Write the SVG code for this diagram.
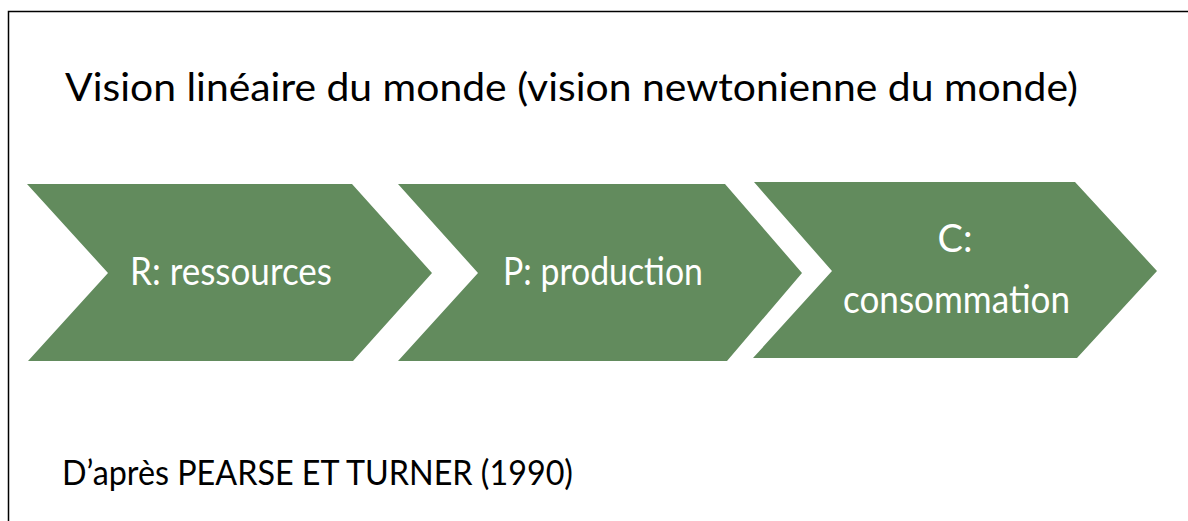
<svg xmlns="http://www.w3.org/2000/svg" width="1188" height="521" viewBox="0 0 1188 521">
<style>
.t{font-family:Lato,"Open Sans","Liberation Sans",sans-serif;fill:#000}
.chev{fill:#628b5d}
.lbl{font-family:Lato,"Open Sans","Liberation Sans",sans-serif;fill:#ffffff;font-size:38px}
</style>
<rect width="1188" height="521" fill="#ffffff"/>
<path d="M8.5 521 V11.5 H1188" fill="none" stroke="#000" stroke-width="1.5"/>
<text class="t" x="65" y="101" font-size="38" textLength="1013" lengthAdjust="spacingAndGlyphs">Vision linéaire du monde (vision newtonienne du monde)</text>
<g id="connectors"></g>
<g id="node-r">
<polygon class="chev" points="27,184 352,184 432,273 353,361 28,361 108,273"/>
<text class="lbl" x="130" y="285" textLength="202" lengthAdjust="spacingAndGlyphs">R: ressources</text>
</g>
<g id="node-p">
<polygon class="chev" points="398,184 725,184 802,273 727,361 398,361 478,273"/>
<text class="lbl" x="503" y="285" textLength="200" lengthAdjust="spacingAndGlyphs">P: production</text>
</g>
<g id="node-c">
<polygon class="chev" points="754,182 1075,182 1157,271 1077,358 753,358 832,271"/>
<text class="lbl" x="955" y="252" text-anchor="middle">C:</text>
<text class="lbl" x="843" y="313" textLength="227" lengthAdjust="spacingAndGlyphs">consommation</text>
</g>
<text class="t" x="62" y="485" font-size="35" textLength="511" lengthAdjust="spacingAndGlyphs">D’après PEARSE ET TURNER (1990)</text>
</svg>
